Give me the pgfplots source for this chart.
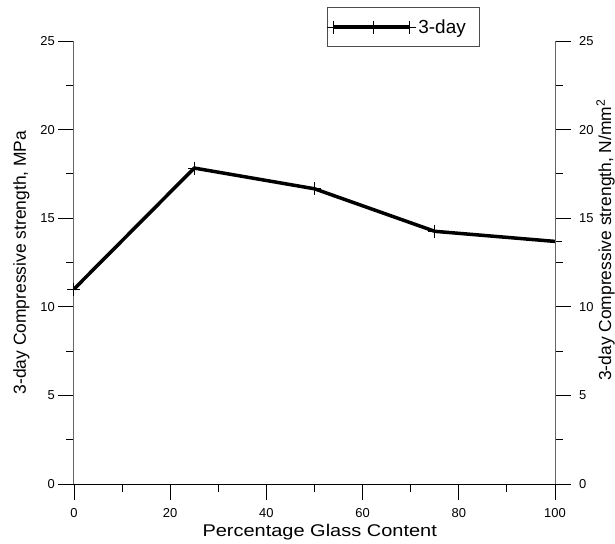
\documentclass[border=0pt]{standalone}
\usepackage{fontspec}
\setmainfont{Liberation Sans}
\usepackage{pgfplots}
\pgfplotsset{compat=1.18}
\begin{document}
\begin{tikzpicture}
\pgfplotsset{
  strength axis/.style={
    scale only axis, width=481bp, height=443bp,
    xmin=0, xmax=100, ymin=0, ymax=25,
    ytick={0,5,...,25}, minor ytick={2.5,7.5,...,22.5},
    tick align=outside, major tick length=16bp, minor tick length=8bp,
    tick style={black, line width=0.9bp},
    /pgf/number format/assume math mode=true,
    ticklabel style={font=\fontsize{13}{13}\selectfont, inner sep=0pt},
    axis line style={-, line width=1bp},
    clip=false,
  }
}
\begin{axis}[axis x line=bottom, axis y line=left,
  strength axis, name=ax,
  x axis line style={black}, y axis line style={black!60},
  xtick={0,20,...,100}, minor xtick={10,30,...,90},
  xticklabel style={yshift=-8bp}, yticklabel style={xshift=-3bp},
  legend style={at={(axis description cs:0.526,1.0767)}, anchor=north west,
    draw=black!70, line width=0.8bp, inner xsep=0bp, inner ysep=10bp,
    font=\fontsize{19}{19}\selectfont, cells={anchor=west}},
  legend image code/.code={
    \draw[line width=3.5bp, mark=+, mark size=6.5bp, mark options={line width=1bp}]
      plot coordinates {(0bp,0bp) (40bp,0bp) (76bp,0bp)};
  },
]
\addplot[black, line width=3.5bp, line join=round, mark=+, mark size=6.5bp,
  mark options={line width=1bp}]
  coordinates {(0,11.0) (25,17.83) (50,16.66) (75,14.26) (100,13.69)};
\addlegendentry{3-day\kern12bp}
\end{axis}
\begin{axis}[axis x line=none, axis y line=right,
  strength axis, y axis line style={black!60},
  xtick=\empty, yticklabel style={xshift=8bp},
]
\end{axis}
\node[font=\fontsize{17}{17}\selectfont, anchor=base, xscale=1.18]
  at ([xshift=245.7bp, yshift=-52.7bp]ax.south west) {Percentage Glass Content};
\node[font=\fontsize{17.5}{17.5}\selectfont, anchor=base, rotate=90]
  at ([xshift=-48bp]ax.west) {3-day Compressive strength, MPa};
\node[font=\fontsize{17.5}{17.5}\selectfont, anchor=base, rotate=90]
  at ([xshift=56bp, yshift=22.5bp]ax.east) {3-day Compressive strength, N/mm\textsuperscript{2}};
\pgfresetboundingbox
\path[use as bounding box] ([shift={(-74bp,-60bp)}]ax.south west)
  rectangle ([shift={(541bp,484bp)}]ax.south west);
\end{tikzpicture}
\end{document}
